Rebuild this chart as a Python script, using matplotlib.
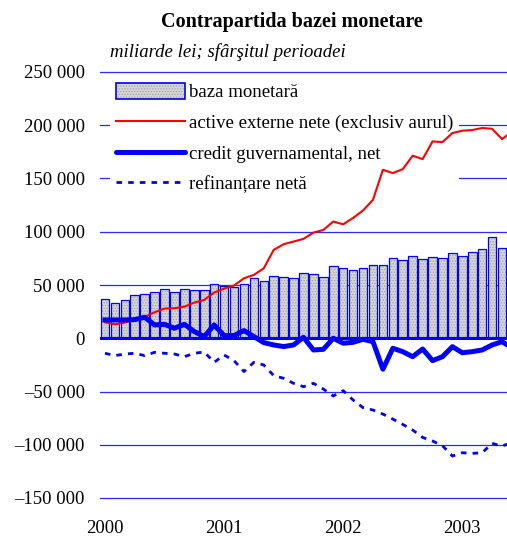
import matplotlib
matplotlib.use("Agg")
import matplotlib.pyplot as plt
from matplotlib.lines import Line2D
from matplotlib.patches import Patch
from matplotlib.ticker import FuncFormatter, FixedLocator
import numpy as np

plt.rcParams['font.family'] = ['Liberation Serif', 'DejaVu Serif']
plt.rcParams['hatch.linewidth'] = 0.6

# lunar, ian 2000 - iun 2003 (ultima luna abia se vede la marginea din dreapta)
baza_monetara = [36600, 33500, 35700, 40400, 41900, 43800, 46000, 43200, 46000, 45100,
                 45700, 51000, 49100, 47900, 50700, 56300, 53800, 58800, 57900, 56300,
                 61000, 60100, 57300, 67600, 65700, 64200, 66400, 68900, 68500, 75100,
                 73900, 77000, 74800, 76100, 75400, 79800, 77300, 81400, 84200, 95500,
                 84500, 91700]
active_externe = [15000, 13100, 14700, 17200, 20000, 24400, 27900, 28200, 29700, 33500,
                  36000, 42900, 46600, 49500, 56300, 59500, 65700, 83000, 88300, 90800,
                  93300, 99200, 101700, 109600, 107000, 113000, 120000, 130000, 158200, 155100,
                  158800, 171400, 168200, 184800, 184200, 192700, 194900, 195500, 197400, 196700,
                  187000, 194000]
credit_guvern = [17200, 17200, 17200, 17500, 19700, 12500, 13100, 9400, 13100, 6300,
                 1600, 12500, 2500, 2500, 7200, 1600, -4100, -6300, -7800, -6300,
                 900, -11000, -10400, 0, -4700, -3800, -1000, -3200, -29100, -9400,
                 -12600, -17300, -10100, -21000, -17300, -7900, -13600, -12600, -11000, -6300,
                 -3200, -9000]
refinantare = [-14100, -16300, -14800, -14100, -16300, -13200, -14100, -14800, -17300, -14100,
               -12900, -22600, -15700, -21000, -31300, -22600, -25100, -35100, -37600, -42300,
               -45500, -42300, -47700, -54200, -49200, -58000, -65200, -67400, -71200, -75900,
               -80900, -86200, -93100, -96500, -100900, -110600, -107500, -108100, -107500, -98700,
               -101200, -98000]

ani = ['2000', '2001', '2002', '2003']
y_ticks = [250000, 200000, 150000, 100000, 50000, 0, -50000, -100000, -150000]

luni = np.arange(len(baza_monetara))
albastru = '#0000ff'

fig = plt.figure(figsize=(5.07, 5.39), dpi=100)
ax = fig.add_axes([100 / 507, 1 - 498 / 539, 407 / 507, 426 / 539])

for v in y_ticks:
    if v != 0:
        ax.axhline(v, color='#2a2aff', lw=0.9, zorder=0.5, clip_on=False)

ax.bar(luni, baza_monetara, width=0.86, color='#d6d6d6', edgecolor='#a0a0a0',
       hatch='......', linewidth=0, zorder=2)
ax.bar(luni, baza_monetara, width=0.86, fill=False, edgecolor=albastru,
       linewidth=0.9, zorder=2.1)
ax.axhline(0, color=albastru, lw=2.2, zorder=2.5)

ax.plot(luni, active_externe, color='#ff0000', lw=1.5, zorder=3)
ax.plot(luni, credit_guvern, color=albastru, lw=3.6, zorder=3.2, solid_joinstyle='round')
ax.plot(luni, refinantare, color=albastru, lw=2.0, dashes=(2, 2.2), zorder=3.1)

ax.set_xlim(-0.5, 40.5)
ax.set_ylim(-150000, 250000)
ax.yaxis.set_major_locator(FixedLocator(y_ticks))
ax.yaxis.set_major_formatter(FuncFormatter(
    lambda v, p: ('–' if v < 0 else '') + f"{abs(int(v)):,}".replace(',', ' ')))
ax.set_xticks([0, 12, 24, 36])
ax.set_xticklabels(ani)
ax.tick_params(axis='both', length=0, labelsize=13.5, colors='black')
ax.tick_params(axis='y', pad=11)
ax.tick_params(axis='x', pad=16)
for s in ax.spines.values():
    s.set_visible(False)

h_bar = (Patch(facecolor='#d6d6d6', edgecolor='#a0a0a0', hatch='......', linewidth=0),
         Patch(fill=False, edgecolor=albastru, linewidth=1.2))
handles = [h_bar,
           Line2D([], [], color='#ff0000', lw=1.5),
           Line2D([], [], color=albastru, lw=3.6, solid_capstyle='round'),
           Line2D([], [], color=albastru, lw=2.0, dashes=(2, 2.2))]
labels = ['baza monetară', 'active externe nete (exclusiv aurul)',
          'credit guvernamental, net', 'refinanțare netă']
leg = ax.legend(handles, labels, loc='upper left', bbox_to_anchor=(0.025, 0.987),
                fontsize=13.5, frameon=True, fancybox=False, framealpha=1,
                facecolor='white', edgecolor='none', handlelength=3.7,
                handleheight=0.9, handletextpad=0.2, labelspacing=0.66,
                borderpad=0.3, borderaxespad=0)
leg.set_zorder(2.8)

fig.text(292 / 507, 1 - 22 / 539, 'Contrapartida bazei monetare', ha='center', va='center',
         fontsize=14.5, fontweight='bold')
fig.text(110 / 507, 1 - 52 / 539, 'miliarde lei; sfârşitul perioadei', ha='left', va='center',
         fontsize=13.5, fontstyle='italic')

fig.savefig('out.png', dpi=100)
